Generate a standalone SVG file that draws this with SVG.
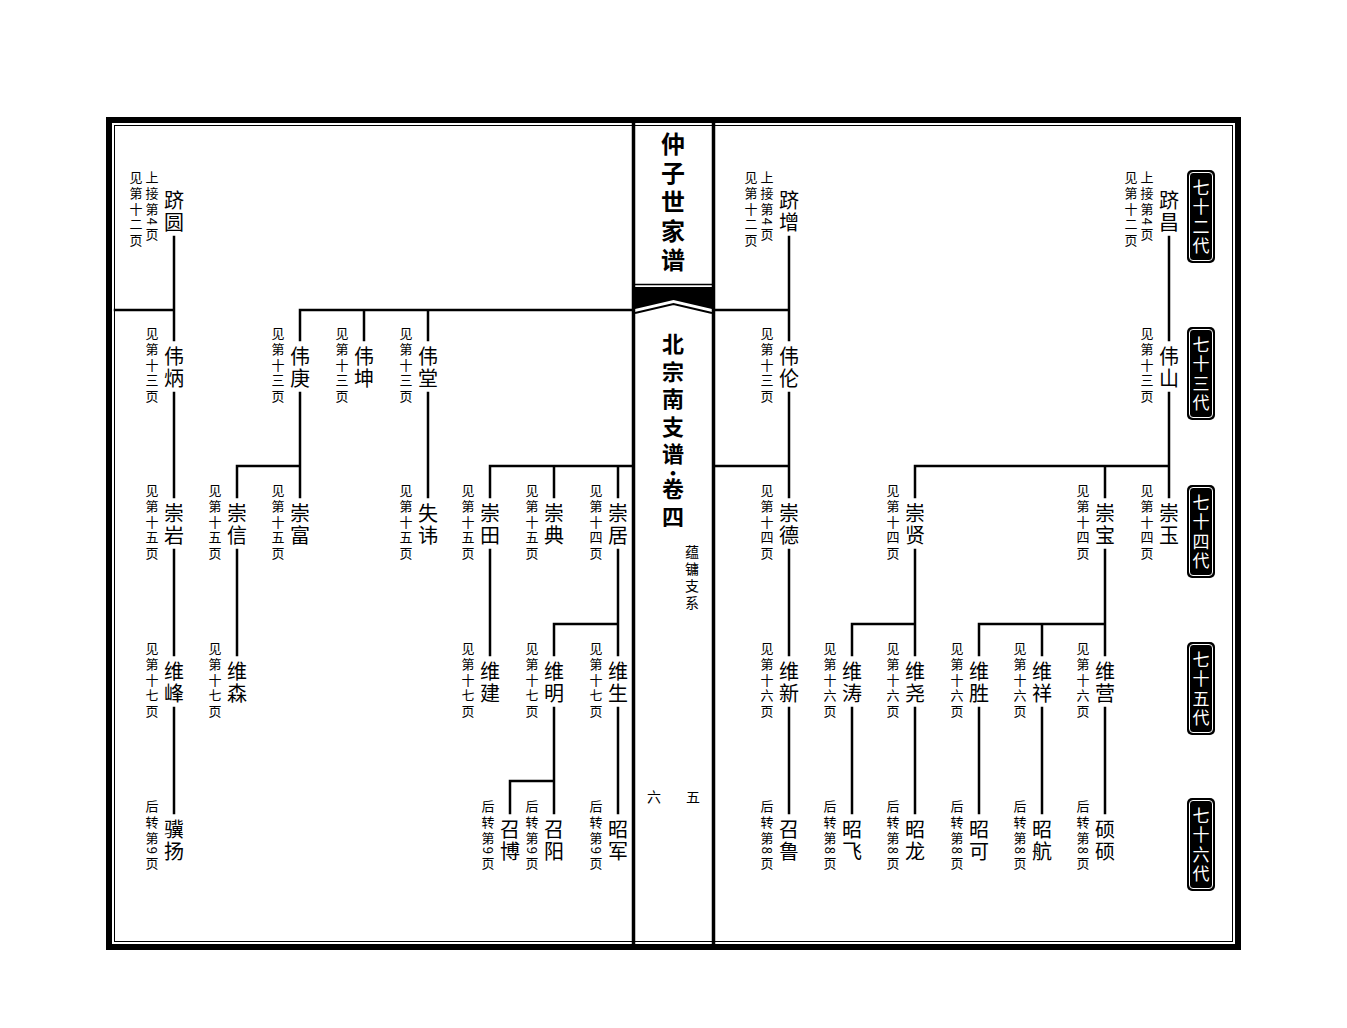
<svg xmlns="http://www.w3.org/2000/svg" width="1347" height="1028" viewBox="0 0 1347 1028">
<style>
text{font-family:"Noto Sans CJK SC","Noto Sans CJK JP",sans-serif;fill:#000}
.nm{font-size:20px;letter-spacing:2px;writing-mode:vertical-rl}
.an{font-size:13px;letter-spacing:2.6px;writing-mode:vertical-rl}
.gen{font-size:17px;letter-spacing:2.5px;writing-mode:vertical-rl;fill:#fff}
.ttl{font-size:24px;font-weight:bold;letter-spacing:5px;writing-mode:vertical-rl}
.sub{font-size:22px;font-weight:bold;letter-spacing:5.5px;writing-mode:vertical-rl}
.sm{font-size:14px;letter-spacing:3px;writing-mode:vertical-rl}
.pg{font-size:14px;text-anchor:middle;dominant-baseline:central}
.ln{stroke:#000;stroke-width:2.5;fill:none;stroke-linecap:square}
.gbox{fill:#000}
.gin{fill:none;stroke:#fff;stroke-width:1}
</style>
<rect width="1347" height="1028" fill="#fff"/>
<g id="frame">
<rect x="109" y="120" width="1129" height="827" fill="none" stroke="#000" stroke-width="6"/>
<rect x="114.5" y="125.5" width="1118" height="816" fill="none" stroke="#000" stroke-width="1"/>
<line x1="633.5" y1="117" x2="633.5" y2="950" stroke="#000" stroke-width="3.5"/>
<line x1="713.5" y1="117" x2="713.5" y2="950" stroke="#000" stroke-width="3.5"/>
<line x1="635" y1="284.5" x2="712" y2="284.5" stroke="#000" stroke-width="1.5"/>
<polygon points="635,287 712,287 712,309 673.5,300 635,309" fill="#000"/>
<polyline points="635,313 673.5,304 712,313" fill="none" stroke="#000" stroke-width="2"/>
</g>
<g id="title">
<text class="ttl" x="673" y="132">仲子世家谱</text>
<text class="sub" x="673" y="333">北宗南支谱</text>
<text class="pg" x="673" y="472" style="font-weight:bold;font-size:18px">・</text>
<text class="sub" x="673" y="478">卷四</text>
<text class="sm" x="692" y="545">蕴镛支系</text>
<text class="pg" x="654" y="796">六</text>
<text class="pg" x="693" y="796">五</text>
</g>
<g id="generations">
<g id="gen72"><rect class="gbox" x="1187" y="170" width="28" height="93" rx="5"/><rect class="gin" x="1189.5" y="172.5" width="23" height="88" rx="3.5"/><text class="gen" x="1201" y="179">七十二代</text></g>
<g id="gen73"><rect class="gbox" x="1187" y="327" width="28" height="93" rx="5"/><rect class="gin" x="1189.5" y="329.5" width="23" height="88" rx="3.5"/><text class="gen" x="1201" y="336">七十三代</text></g>
<g id="gen74"><rect class="gbox" x="1187" y="485" width="28" height="93" rx="5"/><rect class="gin" x="1189.5" y="487.5" width="23" height="88" rx="3.5"/><text class="gen" x="1201" y="494">七十四代</text></g>
<g id="gen75"><rect class="gbox" x="1187" y="642" width="28" height="93" rx="5"/><rect class="gin" x="1189.5" y="644.5" width="23" height="88" rx="3.5"/><text class="gen" x="1201" y="651">七十五代</text></g>
<g id="gen76"><rect class="gbox" x="1187" y="798" width="28" height="93" rx="5"/><rect class="gin" x="1189.5" y="800.5" width="23" height="88" rx="3.5"/><text class="gen" x="1201" y="807">七十六代</text></g>
</g>
<g id="connectors" class="ln">
<path d="M174 237V340M174 393V497M174 550V655M174 708V813M115 310H174"/>
<path d="M300 340V310H632M364 310V340M428 310V340"/>
<path d="M300 393V497M237 497V466H300M237 550V655M428 393V497"/>
<path d="M490 497V466H632M554 466V497M618 466V497M490 550V655"/>
<path d="M618 550V655M618 708V813M554 655V624H618M554 708V813M510 813V781H554"/>
<path d="M715 310H789M715 466H789M789 237V340M789 393V497M789 550V655M789 708V813"/>
<path d="M1169 237V340M1169 393V497M915 497V466H1169M1105 466V497"/>
<path d="M1105 550V655M1105 708V813M979 655V624H1105M1042 624V655M979 708V813M1042 708V813"/>
<path d="M915 550V655M915 708V813M852 655V624H915M852 708V813"/>
</g>
<g id="nodes">
<g id="n-jiyuan"><text class="nm" x="174" y="190">跻圆</text><text class="an" x="152" y="171">上接第4页</text><text class="an" x="136" y="171">见第十二页</text></g>
<g id="n-weibing"><text class="nm" x="174" y="346">伟炳</text><text class="an" x="152" y="327">见第十三页</text></g>
<g id="n-weigeng"><text class="nm" x="300" y="346">伟庚</text><text class="an" x="278" y="327">见第十三页</text></g>
<g id="n-weikun"><text class="nm" x="364" y="346">伟坤</text><text class="an" x="342" y="327">见第十三页</text></g>
<g id="n-weitang"><text class="nm" x="428" y="346">伟堂</text><text class="an" x="406" y="327">见第十三页</text></g>
<g id="n-chongyan"><text class="nm" x="174" y="503">崇岩</text><text class="an" x="152" y="484">见第十五页</text></g>
<g id="n-chongxin"><text class="nm" x="237" y="503">崇信</text><text class="an" x="215" y="484">见第十五页</text></g>
<g id="n-chongfu"><text class="nm" x="300" y="503">崇富</text><text class="an" x="278" y="484">见第十五页</text></g>
<g id="n-shihui"><text class="nm" x="428" y="503">失讳</text><text class="an" x="406" y="484">见第十五页</text></g>
<g id="n-chongtian"><text class="nm" x="490" y="503">崇田</text><text class="an" x="468" y="484">见第十五页</text></g>
<g id="n-chongdian"><text class="nm" x="554" y="503">崇典</text><text class="an" x="532" y="484">见第十五页</text></g>
<g id="n-chongju"><text class="nm" x="618" y="503">崇居</text><text class="an" x="596" y="484">见第十四页</text></g>
<g id="n-weifeng"><text class="nm" x="174" y="661">维峰</text><text class="an" x="152" y="642">见第十七页</text></g>
<g id="n-weisen"><text class="nm" x="237" y="661">维森</text><text class="an" x="215" y="642">见第十七页</text></g>
<g id="n-weijian"><text class="nm" x="490" y="661">维建</text><text class="an" x="468" y="642">见第十七页</text></g>
<g id="n-weiming"><text class="nm" x="554" y="661">维明</text><text class="an" x="532" y="642">见第十七页</text></g>
<g id="n-weisheng"><text class="nm" x="618" y="661">维生</text><text class="an" x="596" y="642">见第十七页</text></g>
<g id="n-jiyang"><text class="nm" x="174" y="819">骥扬</text><text class="an" x="152" y="800">后转第9页</text></g>
<g id="n-zhaobo"><text class="nm" x="510" y="819">召博</text><text class="an" x="488" y="800">后转第9页</text></g>
<g id="n-zhaoyang"><text class="nm" x="554" y="819">召阳</text><text class="an" x="532" y="800">后转第9页</text></g>
<g id="n-zhaojun"><text class="nm" x="618" y="819">昭军</text><text class="an" x="596" y="800">后转第9页</text></g>
<g id="n-jizeng"><text class="nm" x="789" y="190">跻增</text><text class="an" x="767" y="171">上接第4页</text><text class="an" x="751" y="171">见第十二页</text></g>
<g id="n-weilun"><text class="nm" x="789" y="346">伟伦</text><text class="an" x="767" y="327">见第十三页</text></g>
<g id="n-chongde"><text class="nm" x="789" y="503">崇德</text><text class="an" x="767" y="484">见第十四页</text></g>
<g id="n-weixin"><text class="nm" x="789" y="661">维新</text><text class="an" x="767" y="642">见第十六页</text></g>
<g id="n-zhaolu"><text class="nm" x="789" y="819">召鲁</text><text class="an" x="767" y="800">后转第8页</text></g>
<g id="n-jichang"><text class="nm" x="1169" y="190">跻昌</text><text class="an" x="1147" y="171">上接第4页</text><text class="an" x="1131" y="171">见第十二页</text></g>
<g id="n-weishan"><text class="nm" x="1169" y="346">伟山</text><text class="an" x="1147" y="327">见第十三页</text></g>
<g id="n-chongyu"><text class="nm" x="1169" y="503">崇玉</text><text class="an" x="1147" y="484">见第十四页</text></g>
<g id="n-chongbao"><text class="nm" x="1105" y="503">崇宝</text><text class="an" x="1083" y="484">见第十四页</text></g>
<g id="n-chongxian"><text class="nm" x="915" y="503">崇贤</text><text class="an" x="893" y="484">见第十四页</text></g>
<g id="n-weiying"><text class="nm" x="1105" y="661">维营</text><text class="an" x="1083" y="642">见第十六页</text></g>
<g id="n-weixiang"><text class="nm" x="1042" y="661">维祥</text><text class="an" x="1020" y="642">见第十六页</text></g>
<g id="n-weisheng2"><text class="nm" x="979" y="661">维胜</text><text class="an" x="957" y="642">见第十六页</text></g>
<g id="n-weiyao"><text class="nm" x="915" y="661">维尧</text><text class="an" x="893" y="642">见第十六页</text></g>
<g id="n-weitao"><text class="nm" x="852" y="661">维涛</text><text class="an" x="830" y="642">见第十六页</text></g>
<g id="n-shuoshuo"><text class="nm" x="1105" y="819">硕硕</text><text class="an" x="1083" y="800">后转第8页</text></g>
<g id="n-zhaohang"><text class="nm" x="1042" y="819">昭航</text><text class="an" x="1020" y="800">后转第8页</text></g>
<g id="n-zhaoke"><text class="nm" x="979" y="819">昭可</text><text class="an" x="957" y="800">后转第8页</text></g>
<g id="n-zhaolong"><text class="nm" x="915" y="819">昭龙</text><text class="an" x="893" y="800">后转第8页</text></g>
<g id="n-zhaofei"><text class="nm" x="852" y="819">昭飞</text><text class="an" x="830" y="800">后转第8页</text></g>
</g>
</svg>
